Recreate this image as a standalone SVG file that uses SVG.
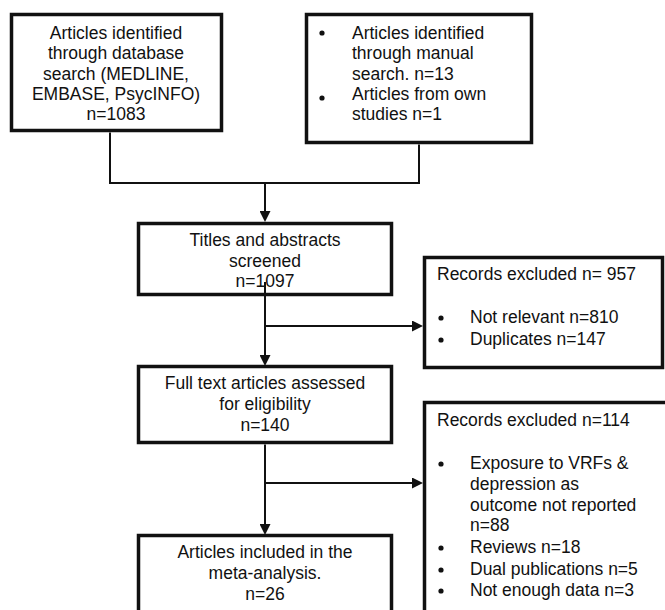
<svg xmlns="http://www.w3.org/2000/svg" width="665" height="610" viewBox="0 0 665 610">
<style>
.box{fill:#fff;stroke:#111;stroke-width:3.5}
.t{font-family:"Liberation Sans",Arial,sans-serif;font-size:17.5px;fill:#111}
.c{text-anchor:middle}
.ln{fill:none;stroke:#111;stroke-width:2}
.dot{fill:#111}
</style>
<defs>
<marker id="ah" markerUnits="userSpaceOnUse" markerWidth="11" markerHeight="11" refX="0" refY="5.5" orient="auto">
<path d="M0,0 L11,5.5 L0,11 z" fill="#111"/>
</marker>
</defs>
<rect width="665" height="610" fill="#fff"/>
<g id="db-search">
<rect class="box" x="11.5" y="14.5" width="210" height="116"/>
<text class="t c" x="116" y="39">Articles identified</text>
<text class="t c" x="116" y="59">through database</text>
<text class="t c" x="116" y="79.5">search (MEDLINE,</text>
<text class="t c" x="116" y="100">EMBASE, PsycINFO)</text>
<text class="t c" x="116" y="120">n=1083</text>
</g>
<g id="manual-search">
<rect class="box" x="306.5" y="14.5" width="225" height="128"/>
<circle class="dot" cx="322" cy="33" r="2.6"/>
<circle class="dot" cx="322" cy="98" r="2.6"/>
<text class="t" x="352" y="39">Articles identified</text>
<text class="t" x="352" y="59">through manual</text>
<text class="t" x="352" y="79.5">search. n=13</text>
<text class="t" x="352" y="100">Articles from own</text>
<text class="t" x="352" y="120">studies n=1</text>
</g>
<g id="screened">
<rect class="box" x="138.5" y="223.5" width="253" height="71"/>
<text class="t c" x="265" y="246">Titles and abstracts</text>
<text class="t c" x="265" y="266.5">screened</text>
<text class="t c" x="265" y="287">n=1097</text>
</g>
<g id="excluded-957">
<rect class="box" x="424.5" y="257.5" width="238" height="110"/>
<text class="t" x="437" y="280">Records excluded n= 957</text>
<circle class="dot" cx="441" cy="318" r="2.6"/>
<circle class="dot" cx="441" cy="340" r="2.6"/>
<text class="t" x="470" y="323">Not relevant n=810</text>
<text class="t" x="470" y="345">Duplicates n=147</text>
</g>
<g id="full-text">
<rect class="box" x="138.5" y="366.5" width="253" height="76"/>
<text class="t c" x="265" y="389">Full text articles assessed</text>
<text class="t c" x="265" y="410">for eligibility</text>
<text class="t c" x="265" y="431">n=140</text>
</g>
<g id="excluded-114">
<rect class="box" x="424.5" y="402.5" width="250" height="220"/>
<text class="t" x="437" y="426">Records excluded n=114</text>
<circle class="dot" cx="441" cy="464" r="2.6"/>
<circle class="dot" cx="441" cy="548" r="2.6"/>
<circle class="dot" cx="441" cy="570" r="2.6"/>
<circle class="dot" cx="441" cy="591" r="2.6"/>
<text class="t" x="470" y="469">Exposure to VRFs &amp;</text>
<text class="t" x="470" y="490">depression as</text>
<text class="t" x="470" y="510.5">outcome not reported</text>
<text class="t" x="470" y="531">n=88</text>
<text class="t" x="470" y="553">Reviews n=18</text>
<text class="t" x="470" y="574.5">Dual publications n=5</text>
<text class="t" x="470" y="596">Not enough data n=3</text>
</g>
<g id="included">
<rect class="box" x="138.5" y="535.5" width="253" height="100"/>
<text class="t c" x="265" y="558">Articles included in the</text>
<text class="t c" x="265" y="579">meta-analysis.</text>
<text class="t c" x="265" y="600">n=26</text>
</g>
<g id="connectors">
<path class="ln" d="M110 132.5 V183 H419 V144.5"/>
<path class="ln" d="M265 183 V211" marker-end="url(#ah)"/>
<path class="ln" d="M265 282 V355" marker-end="url(#ah)"/>
<path class="ln" d="M265 326 H412" marker-end="url(#ah)"/>
<path class="ln" d="M265 444.5 V524" marker-end="url(#ah)"/>
<path class="ln" d="M265 483 H412" marker-end="url(#ah)"/>
</g>
</svg>
